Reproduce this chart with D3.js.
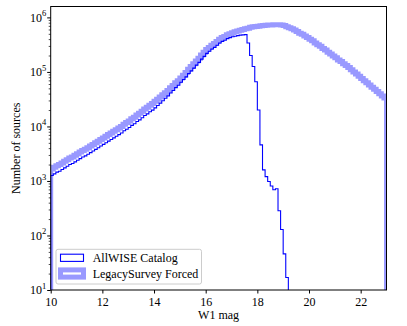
<!DOCTYPE html>
<html>
<head>
<meta charset="utf-8">
<script src="https://cdn.jsdelivr.net/npm/d3@7"></script>
<style>
  body { margin: 0; background: #fff; }
  text { font-family: "Liberation Serif", "DejaVu Serif", serif; }
</style>
</head>
<body>
<div id="chart"></div>
<script>
// histogram bins: 0.1 mag wide, starting at W1 = 10
const binStart = 10, binWidth = 0.1;

const wiseCounts = [
  1260, 1350, 1450, 1510, 1620, 1740, 1860, 2000, 2090, 2240,
  2400, 2570, 2750, 2880, 3090, 3310, 3550, 3800, 4070, 4370,
  4680, 5010, 5370, 5750, 6170, 6610, 7080, 7590, 8320, 8910,
  9550, 10470, 11220, 12300, 13180, 14450, 15850, 16980, 18620, 19950,
  21880, 24210, 26790, 29650, 32810, 36310, 41110, 45500, 51520, 57020,
  64570, 72440, 81280, 93330, 104700, 117500, 133400, 149600, 171800, 192800,
  218800, 239900, 263000, 281800, 309000, 338800, 363100, 380200, 407400, 426600,
  441600, 451900, 462400, 473200, 478600, 484200, 340000, 200000, 126000, 66000,
  20000, 4600, 1600, 1200, 980, 810, 690, 720, 285, 129,
  46, 17
];

const legacyCounts = [
  1660, 1780, 1905, 2000, 2140, 2290, 2450, 2630, 2750, 2950,
  3160, 3390, 3630, 3800, 4070, 4370, 4680, 5010, 5370, 5750,
  6170, 6610, 7080, 7590, 8130, 8710, 9330, 10000, 10960, 11750,
  12590, 13800, 14790, 16220, 17380, 19050, 20890, 22390, 24550, 26300,
  28840, 31620, 34670, 38020, 41690, 45710, 51290, 56230, 63100, 69180,
  77620, 87100, 97720, 112200, 125900, 141300, 158500, 177800, 204200, 229100,
  257000, 281800, 309000, 331100, 363100, 398100, 426600, 446700, 478600, 501200,
  524800, 543300, 562300, 582100, 602600, 616600, 631000, 660700, 676100, 683900,
  691800, 699800, 707900, 716100, 724400, 724400, 732800, 732800, 732800, 724400,
  707900, 676100, 645700, 616600, 588800, 549500, 512900, 489800, 457100, 426600,
  398100, 371500, 338800, 316200, 295100, 269200, 251200, 229100, 213800, 195000,
  182000, 166000, 154900, 141300, 131800, 120200, 109600, 100000, 91200, 83180,
  75860, 69180, 63100, 57540, 52480, 47860, 43650, 39810, 36310, 33110
];

const xTicks = [10, 12, 14, 16, 18, 20, 22];
const yExponents = [1, 2, 3, 4, 5, 6];
const seriesNames = ["AllWISE Catalog", "LegacySurvey Forced"];

const totalW = 407, totalH = 326;
const margin = { top: 6.5, left: 50.7, right: 20.5, bottom: 36 };
const width = totalW - margin.left - margin.right,
      height = totalH - margin.top - margin.bottom;

const svg = d3.select("#chart")
  .append("svg")
    .attr("width", totalW)
    .attr("height", totalH)
  .append("g")
    .attr("transform", "translate(" + margin.left + "," + margin.top + ")");

const xScale = d3.scaleLinear().domain([10, 23]).range([0, width]);
const yScale = d3.scaleLog().domain([10, Math.pow(10, 6.2)]).range([height, 0]);

svg.append("clipPath").attr("id", "plotclip")
  .append("rect").attr("width", width).attr("height", height);

// step outline like matplotlib histtype='step'
function stepPoints(counts) {
  const pts = [[binStart, 1]];
  counts.forEach((c, i) => {
    pts.push([binStart + i * binWidth, c]);
    pts.push([binStart + (i + 1) * binWidth, c]);
  });
  pts.push([binStart + counts.length * binWidth, 1]);
  return pts;
}

const line = d3.line()
  .x(d => xScale(d[0]))
  .y(d => Math.min(yScale(d[1]), height + 10));

const plot = svg.append("g").attr("clip-path", "url(#plotclip)");

plot.append("path")
  .datum(stepPoints(wiseCounts))
  .attr("d", line)
  .attr("fill", "none")
  .attr("stroke", "#0000ff")
  .attr("stroke-width", 1.1)
  .attr("stroke-linejoin", "miter");

plot.append("path")
  .datum(stepPoints(legacyCounts))
  .attr("d", line)
  .attr("fill", "none")
  .attr("stroke", "#0000ff")
  .attr("stroke-opacity", 0.4)
  .attr("stroke-width", 5)
  .attr("stroke-linejoin", "miter");

// x axis
const xAxis = svg.append("g")
  .attr("transform", "translate(0," + height + ")")
  .call(d3.axisBottom(xScale).tickValues(xTicks).tickSize(3.5).tickPadding(4).tickFormat(d3.format("d")));
xAxis.select(".domain").remove();
xAxis.selectAll("text").style("font-size", "12px").attr("fill", "#000");

// y axis: minor ticks
const minorTicks = [];
yExponents.forEach(e => {
  for (let k = 2; k <= 9; k++) {
    const v = k * Math.pow(10, e);
    if (v <= yScale.domain()[1]) minorTicks.push(v);
  }
});
const yMinor = svg.append("g")
  .call(d3.axisLeft(yScale).tickValues(minorTicks).tickSize(2).tickFormat(""));
yMinor.select(".domain").remove();
yMinor.selectAll("line").attr("stroke-width", 0.7);

const yMajor = svg.append("g")
  .call(d3.axisLeft(yScale).tickValues(yExponents.map(e => Math.pow(10, e))).tickSize(3.5).tickFormat(""));
yMajor.select(".domain").remove();

yExponents.forEach(e => {
  const t = svg.append("text")
    .attr("x", -4.5)
    .attr("y", yScale(Math.pow(10, e)) + 4.2)
    .attr("text-anchor", "end")
    .style("font-size", "12px");
  t.append("tspan").text("10");
  t.append("tspan").attr("dy", -5.5).style("font-size", "8.5px").text(e);
});

// frame
svg.append("rect")
  .attr("width", width)
  .attr("height", height)
  .attr("fill", "none")
  .attr("stroke", "#000")
  .attr("stroke-width", 1);

// axis labels
svg.append("text")
  .attr("x", width / 2)
  .attr("y", height + 28.5)
  .attr("text-anchor", "middle")
  .style("font-size", "12px")
  .text("W1 mag");

svg.append("text")
  .attr("transform", "translate(" + (-31) + "," + (height / 2) + ") rotate(-90)")
  .attr("text-anchor", "middle")
  .style("font-size", "12px")
  .text("Number of sources");

// legend
const legend = svg.append("g").attr("transform", "translate(" + (56 - margin.left) + "," + (249.3 - margin.top) + ")");
legend.append("rect")
  .attr("width", 145.5)
  .attr("height", 34.7)
  .attr("rx", 2)
  .attr("fill", "#fff")
  .attr("fill-opacity", 0.8)
  .attr("stroke", "#cccccc")
  .attr("stroke-width", 1);

const handleStyle = [
  { color: "#0000ff", opacity: 1, width: 1.1 },
  { color: "#0000ff", opacity: 0.4, width: 5 }
];
seriesNames.forEach((name, i) => {
  const cy = 8.5 + i * 15.7;
  legend.append("rect")
    .attr("x", 4.5)
    .attr("y", cy - 3.6)
    .attr("width", 23)
    .attr("height", 7.2)
    .attr("fill", "none")
    .attr("stroke", handleStyle[i].color)
    .attr("stroke-opacity", handleStyle[i].opacity)
    .attr("stroke-width", handleStyle[i].width);
  legend.append("text")
    .attr("x", 36.7)
    .attr("y", cy + 4.2)
    .style("font-size", "12px")
    .text(name);
});
</script>
</body>
</html>
